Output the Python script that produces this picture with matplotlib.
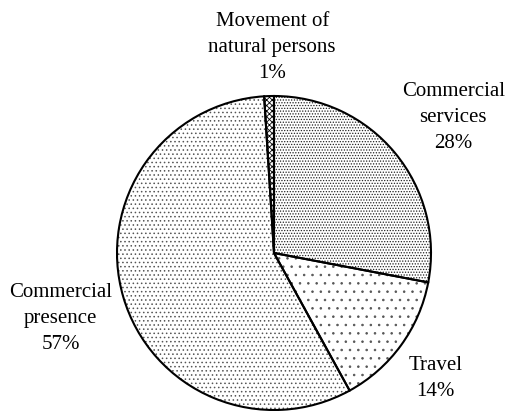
import numpy as np
import matplotlib
matplotlib.use('Agg')
import matplotlib.pyplot as plt

# shares of mode of supply, clockwise from the top
labels = ['Commercial\nservices\n28%', 'Travel\n14%', 'Commercial\npresence\n57%',
          'Movement of\nnatural persons\n1%']
shares = [28, 14, 57, 1]
hatches = ['......', '..', '....', 'xxxxxx']
hatch_colors = ['#222222', '#555555', '#555555', 'black']
label_dist = [1.43, 1.30, 1.42, 1.31]
label_shift = [-2.6, -1.8, 0.8, -1.3]   # degrees, nudge from the wedge middle

plt.rcParams['font.family'] = 'Liberation Serif'
plt.rcParams['hatch.linewidth'] = 0.6

fig = plt.figure(figsize=(5.08, 4.12), dpi=100)
ax = fig.add_axes([0, 0, 1, 1])

# hatched fill
wedges, _ = ax.pie(shares, startangle=90, counterclock=False, radius=1,
                   wedgeprops=dict(facecolor='white', linewidth=0))
for w, h, c in zip(wedges, hatches, hatch_colors):
    w.set_hatch(h)
    w.set_edgecolor(c)
    w.set_linewidth(0)

# black outlines on top
outl, _ = ax.pie(shares, startangle=90, counterclock=False, radius=1,
                 wedgeprops=dict(fill=False, edgecolor='black', linewidth=1.5))

# labels near wedge mid angles
total = sum(shares)
start = 90.0
for lab, s, d, sh in zip(labels, shares, label_dist, label_shift):
    mid = np.deg2rad(start - s / total * 360 / 2 + sh)
    start -= s / total * 360
    ax.text(d * np.cos(mid), d * np.sin(mid), lab, ha='center', va='center',
            fontsize=15, linespacing=1.5)

r = 157.0
ax.set_xlim(-274 / r, (508 - 274) / r)
ax.set_ylim(-(412 - 253) / r, 253 / r)
ax.axis('off')

fig.savefig('out.png', dpi=100)
